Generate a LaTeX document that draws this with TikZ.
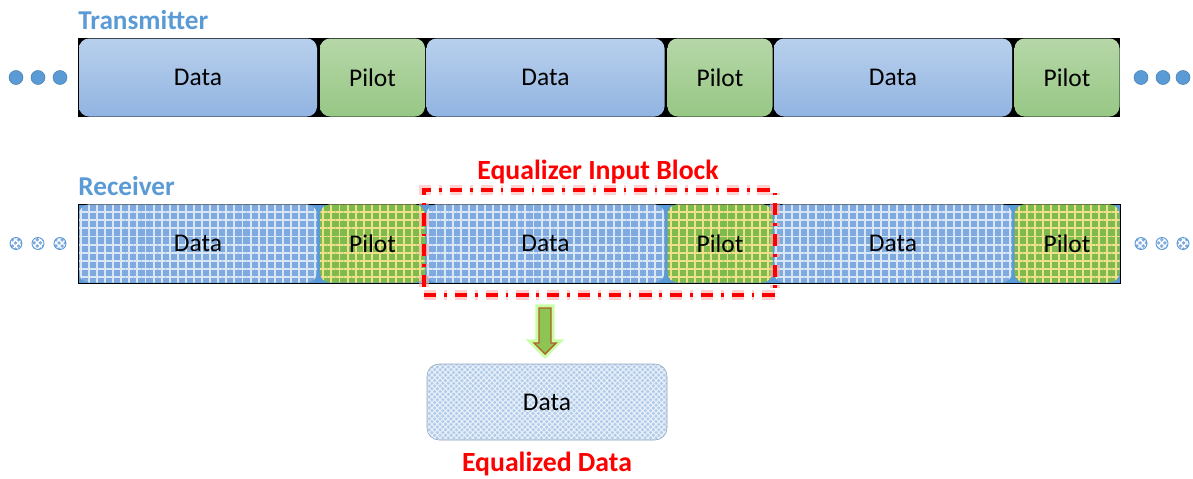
\documentclass[tikz,border=0pt]{standalone}
\usepackage{fontspec}
\setmainfont{Carlito}
\usepackage{tikz}
\usetikzlibrary{arrows,shapes,positioning,patterns.meta}

\definecolor{titleblue}{HTML}{5B9BD5}
\definecolor{datatop}{HTML}{B8D0EC}
\definecolor{databot}{HTML}{92B4E2}
\definecolor{pilottop}{HTML}{B6D7A8}
\definecolor{pilotbot}{HTML}{97C785}
\definecolor{rxblue}{HTML}{7FAADF}
\definecolor{rxgreen}{HTML}{7DBB4E}
\definecolor{rxyellow}{HTML}{F1E08A}
\definecolor{arrowgreen}{HTML}{8DC453}
\definecolor{arrowbrown}{HTML}{B0602A}

\tikzset{
  blocktext/.style={font=\fontsize{14.5}{17}\selectfont},
  datablk/.style={blocktext, rounded corners=0.2cm, minimum width=4.76cm, minimum height=1.56cm, top color=datatop, bottom color=databot},
  pilotblk/.style={blocktext, rounded corners=0.2cm, minimum width=2.10cm, minimum height=1.56cm, top color=pilottop, bottom color=pilotbot},
  rxdata/.style={blocktext, rounded corners=0.2cm, minimum width=4.76cm, minimum height=1.56cm, preaction={fill=rxblue},
    pattern={Hatch[angle=0,distance=4.6pt,line width=1.1pt]}, pattern color=white!70!rxblue},
  rxpilot/.style={blocktext, rounded corners=0.2cm, minimum width=2.10cm, minimum height=1.56cm, preaction={fill=rxgreen},
    pattern={Hatch[angle=0,distance=4.6pt,line width=1.1pt]}, pattern color=rxyellow},
  titletext/.style={font=\fontsize{15.5}{18}\selectfont\bfseries, text=titleblue, anchor=west, inner sep=0},
  redtext/.style={font=\fontsize{15.8}{19}\selectfont\bfseries, text=red},
  eqframe/.style={draw=red, line width=2.8pt, dash pattern=on 7pt off 4.5pt on 1.5pt off 4.5pt,
    preaction={draw=red!30, line width=5.5pt, opacity=0.6}, minimum width=7.02cm, minimum height=2.10cm},
  txdot/.style={fill=titleblue, draw=titleblue!80!black, line width=0.3pt},
  rxdot/.style={preaction={fill=rxblue}, pattern={Hatch[angle=45,distance=2.5pt,line width=0.8pt]}, pattern color=white, draw=titleblue, line width=0.5pt},
  flowarrow/.style={fill=arrowgreen, draw=arrowbrown, line width=0.8pt, line join=miter, preaction={draw=green!50!lime, line width=4pt, opacity=0.35}}
}

\begin{document}
\begin{tikzpicture}

\useasboundingbox (0,0) rectangle (23.86,-9.58);

% transmitter row
\node[titletext] (txtitle) at (1.56,-0.40) {Transmitter};
\fill [black] (1.56,-0.76) rectangle (22.40,-2.34);
\node[datablk] (txd1) at (3.96,-1.55) {Data};
\node[pilotblk] (txp1) at (7.45,-1.55) {Pilot};
\node[datablk] (txd2) at (10.91,-1.55) {Data};
\node[pilotblk] (txp2) at (14.40,-1.55) {Pilot};
\node[datablk] (txd3) at (17.86,-1.55) {Data};
\node[pilotblk] (txp3) at (21.34,-1.55) {Pilot};

\fill [txdot] (0.32,-1.55) circle (0.14);
\fill [txdot] (0.76,-1.55) circle (0.14);
\fill [txdot] (1.20,-1.55) circle (0.14);
\fill [txdot] (22.82,-1.55) circle (0.14);
\fill [txdot] (23.26,-1.55) circle (0.14);
\fill [txdot] (23.66,-1.55) circle (0.14);

% receiver row
\node[titletext] (rxtitle) at (1.56,-3.72) {Receiver};
\filldraw [fill=titleblue, draw=black, line width=0.4pt] (1.56,-4.08) rectangle (22.40,-5.66);
\node[rxdata] (rxd1) at (3.96,-4.87) {Data};
\node[rxpilot] (rxp1) at (7.45,-4.87) {Pilot};
\node[rxdata] (rxd2) at (10.91,-4.87) {Data};
\node[rxpilot] (rxp2) at (14.40,-4.87) {Pilot};
\node[rxdata] (rxd3) at (17.86,-4.87) {Data};
\node[rxpilot] (rxp3) at (21.34,-4.87) {Pilot};

\draw [rxdot] (0.32,-4.87) circle (0.12);
\draw [rxdot] (0.76,-4.87) circle (0.12);
\draw [rxdot] (1.20,-4.87) circle (0.12);
\draw [rxdot] (22.82,-4.87) circle (0.12);
\draw [rxdot] (23.24,-4.87) circle (0.12);
\draw [rxdot] (23.66,-4.87) circle (0.12);

% equalizer block
\node[eqframe] (eqbox) at (11.99,-4.85) {};
\node[redtext] (eqtitle) at (11.96,-3.44) {Equalizer Input Block};

\coordinate (flowtop) at (10.90,-6.16);
\filldraw [flowarrow] (flowtop) ++(-0.12,0) -- ++(0,-0.70) -- ++(-0.10,0) -- ++(0.22,-0.22) -- ++(0.22,0.22) -- ++(-0.10,0) -- ++(0,0.70) -- cycle;

\node[blocktext, rounded corners=0.24cm, minimum width=4.8cm, minimum height=1.52cm, preaction={fill=datatop!85!databot},
  pattern={Hatch[angle=45,distance=2.2pt,line width=0.6pt]}, pattern color=white!70!datatop, draw=datatop!80!black, line width=0.3pt] (eqdata) at (10.94,-8.04) {Data};
\node[redtext] (eqdatatitle) [below=0.12cm of eqdata] {Equalized Data};

\end{tikzpicture}
\end{document}
